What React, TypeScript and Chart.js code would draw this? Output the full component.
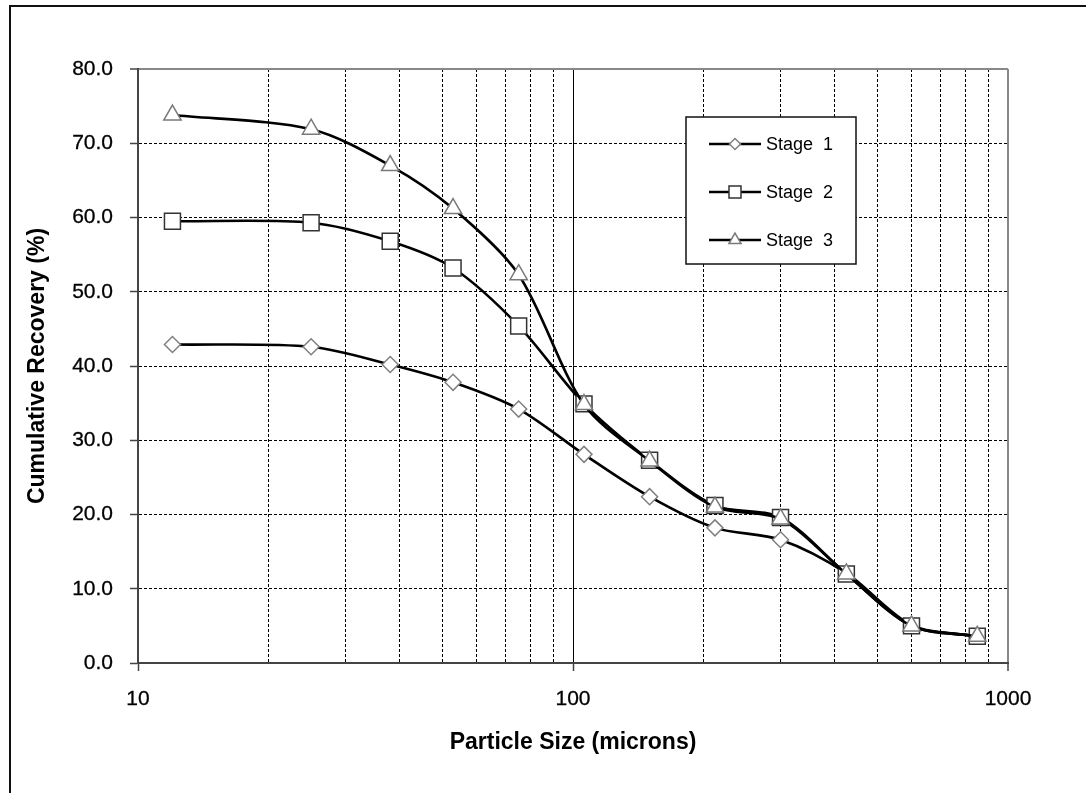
import React, { useEffect, useRef } from 'react';
import { Chart, registerables } from 'chart.js';
import { drawPoint } from 'chart.js/helpers';

Chart.register(...registerables);

// ---- data ----
const particleSizes = [12, 25, 38, 53, 75, 106, 150, 212, 300, 425, 600, 850];
const stage1 = [42.9, 42.6, 40.2, 37.8, 34.2, 28.1, 22.4, 18.2, 16.6, 12.1, 5.1, 3.6];
const stage2 = [59.5, 59.3, 56.8, 53.2, 45.4, 34.9, 27.3, 21.2, 19.6, 12.0, 5.0, 3.6];
const stage3 = [73.8, 71.9, 67.0, 61.2, 52.3, 34.8, 27.2, 21.0, 19.4, 12.0, 5.0, 3.6];
const seriesLabels = ['Stage 1', 'Stage 2', 'Stage 3'];
const xGridValues = [10, 20, 30, 40, 50, 60, 70, 80, 90, 100, 200, 300, 400, 500, 600, 700, 800, 900, 1000];
const xTickLabels = [10, 100, 1000];
const yTickValues = [0, 10, 20, 30, 40, 50, 60, 70, 80];
const xTitle = 'Particle Size (microns)';
const yTitle = 'Cumulative Recovery (%)';

const FONT = '"Liberation Sans", Arial, sans-serif';

const pointStyles = ['rectRot', 'rect', 'triangle'];
const pointRadii = [8, 11.3, 10];
const legendRadii = [5.5, 8.5, 7];
const pointBorders = ['#808080', '#333333', '#7a7a7a'];

const frameAndLegend = {
  id: 'frameAndLegend',
  beforeDraw(chart: any) {
    const { ctx, width, height } = chart;
    ctx.save();
    ctx.fillStyle = '#ffffff';
    ctx.fillRect(0, 0, width, height);
    ctx.fillStyle = '#111111';
    ctx.fillRect(9, 5, 2, height - 5);
    ctx.fillRect(9, 5, width - 9, 2);
    ctx.restore();
  },
  afterDraw(chart: any) {
    const { ctx } = chart;
    const left = 686, top = 117, right = 856, bottom = 264;
    const rows = [144, 192, 240];
    ctx.save();
    ctx.fillStyle = '#ffffff';
    ctx.fillRect(left, top, right - left, bottom - top);
    ctx.strokeStyle = '#111111';
    ctx.lineWidth = 1.5;
    ctx.strokeRect(left, top, right - left, bottom - top);
    chart.data.datasets.forEach((ds: any, i: number) => {
      const y = rows[i];
      ctx.beginPath();
      ctx.strokeStyle = '#000000';
      ctx.lineWidth = 2.5;
      ctx.moveTo(709, y);
      ctx.lineTo(761, y);
      ctx.stroke();
      ctx.fillStyle = '#ffffff';
      ctx.strokeStyle = pointBorders[i];
      ctx.lineWidth = 1.5;
      drawPoint(ctx, { pointStyle: pointStyles[i], radius: legendRadii[i], borderWidth: 1.5, rotation: 0 }, 735, y);
      ctx.fillStyle = '#000000';
      ctx.font = `18px ${FONT}`;
      ctx.textBaseline = 'middle';
      ctx.textAlign = 'left';
      try { (ctx as any).wordSpacing = '5px'; } catch (e) {}
      ctx.fillText(ds.label, 766, y + 1);
      try { (ctx as any).wordSpacing = '0px'; } catch (e) {}
    });
    ctx.restore();
  },
};

export default function App() {
  const canvasRef = useRef<HTMLCanvasElement | null>(null);

  useEffect(() => {
    if (!canvasRef.current) return;
    const series = [stage1, stage2, stage3];
    const chart = new Chart(canvasRef.current, {
      type: 'line',
      data: {
        datasets: series.map((vals, i) => ({
          label: seriesLabels[i],
          data: particleSizes.map((x, j) => ({ x, y: vals[j] })),
          borderColor: '#000000',
          borderWidth: 2.6,
          tension: 0.3,
          fill: false,
          pointStyle: pointStyles[i] as any,
          pointRadius: pointRadii[i],
          pointHoverRadius: pointRadii[i],
          pointBackgroundColor: '#ffffff',
          pointBorderColor: pointBorders[i],
          pointBorderWidth: 1.5,
          order: 3 - i,
        })),
      },
      options: {
        animation: false,
        responsive: true,
        maintainAspectRatio: false,
        layout: { padding: { left: 0, top: 69, right: 78, bottom: 0 } },
        plugins: { legend: { display: false }, tooltip: { enabled: false } },
        events: [],
        scales: {
          x: {
            type: 'logarithmic',
            min: 10,
            max: 1000,
            afterFit: (s: any) => { s.height = 130; },
            afterBuildTicks: (s: any) => {
              s.ticks = xGridValues.map((v) => ({ value: v, major: xTickLabels.includes(v) }));
            },
            ticks: {
              autoSkip: false,
              maxRotation: 0,
              padding: 16,
              color: '#000000',
              textStrokeColor: '#000000',
              textStrokeWidth: 0.3,
              font: { family: FONT, size: 21 },
              callback: (v: any) => (xTickLabels.includes(Number(v)) ? String(v) : ''),
            },
            grid: {
              color: (c: any) => {
                const v = c.tick ? c.tick.value : 0;
                if (v === 10) return 'rgba(0,0,0,0)';
                if (v === 1000) return '#888888';
                return '#000000';
              },
              lineWidth: (c: any) => (c.tick && c.tick.value === 1000 ? 2 : 1),
              tickColor: (c: any) => (c.tick && c.tick.major ? '#444444' : 'rgba(0,0,0,0)'),
              tickLength: 8,
              tickWidth: 1.5,
            },
            border: {
              display: true,
              color: '#444444',
              width: 2,
              dash: (c: any) => (c.tick && !c.tick.major ? [3, 2] : []),
            },
            title: {
              display: true,
              text: xTitle,
              color: '#000000',
              font: { family: FONT, size: 23, weight: 'bold' },
              padding: { top: 0, bottom: 37 },
            },
          },
          y: {
            type: 'linear',
            min: 0,
            max: 80,
            afterFit: (s: any) => { s.width = 138; },
            afterBuildTicks: (s: any) => {
              s.ticks = yTickValues.map((v) => ({ value: v }));
            },
            ticks: {
              padding: 17,
              color: '#000000',
              textStrokeColor: '#000000',
              textStrokeWidth: 0.3,
              font: { family: FONT, size: 21 },
              callback: (v: any) => Number(v).toFixed(1),
            },
            grid: {
              color: (c: any) => {
                const v = c.tick ? c.tick.value : 0;
                if (v === 0) return 'rgba(0,0,0,0)';
                if (v === 80) return '#888888';
                return '#000000';
              },
              lineWidth: (c: any) => (c.tick && c.tick.value === 80 ? 2 : 1),
              tickColor: '#444444',
              tickLength: 8,
              tickWidth: 1.5,
            },
            border: {
              display: true,
              color: '#444444',
              width: 2,
              dash: (c: any) => (c.tick && c.tick.value !== 80 && c.tick.value !== 0 ? [3, 2] : []),
            },
            title: {
              display: true,
              text: yTitle,
              color: '#000000',
              font: { family: FONT, size: 23, weight: 'bold' },
              padding: { top: 24, bottom: 0 },
            },
          },
        },
      },
      plugins: [frameAndLegend],
    } as any);
    return () => chart.destroy();
  }, []);

  return (
    <div style={{ position: 'absolute', left: 0, top: 0, width: 1086, height: 793 }}>
      <canvas ref={canvasRef} />
    </div>
  );
}
